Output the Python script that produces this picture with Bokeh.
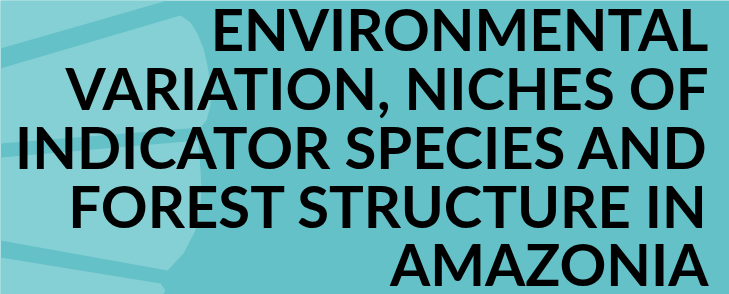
from bokeh.plotting import figure
from bokeh.models import Range1d
from bokeh.core.properties import value
from bokeh.embed import file_html
from bokeh.resources import INLINE

# Title lines (right-aligned)
title_lines = ["ENVIRONMENTAL", "VARIATION, NICHES OF", "INDICATOR SPECIES AND",
               "FOREST STRUCTURE IN", "AMAZONIA"]
# anchor positions of the text lines
baselines = [28, 87, 146, 205, 263]

# Light decorative shapes (image pixel coordinates, y down)
shape_xs = [
    [0, 167, 0],
    [0, 180, 190, 197, 203, 207, 210, 210, 206, 200, 0],
    [0, 198, 200, 201, 200, 195, 183, 167, 0],
    [0, 160, 165, 163, 0],
]
shape_ys = [
    [0, 0, 48],
    [68, 15, 22, 33, 48, 65, 85, 105, 120, 127, 143],
    [157, 140, 170, 190, 203, 230, 253, 270, 240],
    [257, 283, 290, 294, 294],
]

BG = "#63c1c7"
LIGHT = "#85d0d4"

p = figure(width=729, height=294, output_backend="svg", toolbar_location=None,
           x_range=Range1d(0, 729), y_range=Range1d(294, 0), min_border=0)
p.axis.visible = False
p.grid.visible = False
p.outline_line_color = None
p.background_fill_color = BG
p.border_fill_color = BG

p.patches(shape_xs, shape_ys, fill_color=LIGHT, line_color=None)

p.text(x=[708] * len(title_lines), y=baselines, text=title_lines,
       text_align="right", text_baseline="alphabetic",
       text_font=value("Lato"), text_font_style="bold",
       text_font_size="58px", text_color="#000000")

open("out.html", "w").write(file_html(p, INLINE))
